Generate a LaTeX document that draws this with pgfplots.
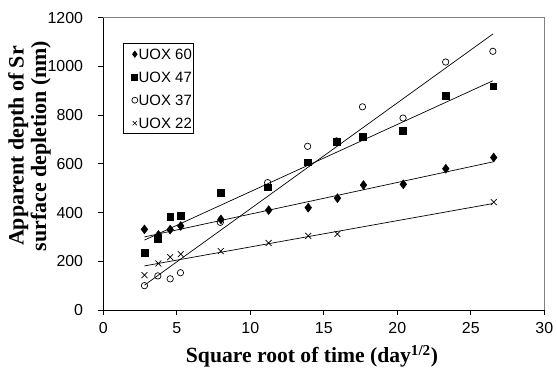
\documentclass[border=0pt]{standalone}
\usepackage{fontspec}
\setmainfont{Liberation Sans}
\newfontfamily\serifb{Liberation Serif}
\usepackage{pgfplots}
\pgfplotsset{compat=1.18}
\begin{document}
\begin{tikzpicture}
\begin{axis}[
  scale only axis,
  width=441bp, height=292.3bp,
  xmin=0, xmax=30, ymin=0, ymax=1200,
  xtick={0,5,...,30}, ytick={0,200,...,1200},
  tick align=outside, major tick length=5bp,
  tick style={black, line width=0.8pt},
  axis x line*=bottom, axis y line*=left,
  axis line style={black, line width=0.8pt, -},
  /pgf/number format/assume math mode=true,
  /pgf/number format/1000 sep={},
  every tick label/.append style={font=\fontsize{16}{19}\selectfont, inner sep=0pt},
  every x tick label/.append style={anchor=north, yshift=-7bp},
  every y tick label/.append style={anchor=east},
  yticklabel={\pgfmathprintnumber{\tick}\hspace*{15bp}},
  xlabel={\serifb\bfseries Square root of time (day\textsuperscript{1/2})},
  xlabel style={font=\fontsize{21.7}{24}\selectfont, at={(axis description cs:0.4732,-0.1813)}, anchor=base},
  ylabel={\serifb\bfseries Apparent depth of Sr\\\serifb\bfseries surface depletion (nm)},
  ylabel style={font=\fontsize{22}{22.5}\selectfont, align=center, at={(axis description cs:-0.1673,0.561)}, anchor=center},
  legend style={at={(axis description cs:0.044,0.9124)}, anchor=north west,
    draw=black, line width=0.8pt, font=\fontsize{15}{18}\selectfont,
    inner xsep=2bp, inner ysep=5bp, row sep=12bp,
    nodes={inner sep=0pt, text height=11bp, text depth=0bp},
    /tikz/every even column/.append style={column sep=3.2bp}},
  legend cell align=left,
  legend image code/.code={\path (-9.3bp,0) (3.5bp,0); \draw[#1, mark size=3bp] plot coordinates {(0bp,0bp)};},
  clip=false,
]
\draw[gray, line width=0.8pt] (axis cs:0,1200) -- (axis cs:30,1200) -- (axis cs:30,0);
\addplot[only marks, mark=diamond*, mark size=4.5bp, mark options={fill=black, draw=black}] coordinates {
(2.8,331)(3.75,308)(4.55,330)(5.27,345)(8.0,372)(11.25,410)(13.94,420)(15.93,459)(17.7,513)(20.41,516)(23.3,580)(26.56,626)};
\addlegendentry{UOX 60}
\addplot[only marks, mark=square*, mark size=3.4bp, mark options={fill=black, draw=black}] coordinates {
(2.8,236)(3.71,293)(4.55,383)(5.25,386)(7.96,481)(11.18,504)(13.9,607)(15.86,691)(17.63,711)(20.39,737)(23.29,880)(26.52,919)};
\addlegendentry{UOX 47}
\addplot[only marks, mark=o, mark size=3.2bp, mark options={draw=black, fill=white, line width=0.7pt}] coordinates {
(2.8,100)(3.71,140)(4.55,128)(5.25,153)(7.96,360)(11.18,523)(13.9,672)(15.86,694)(17.63,834)(20.39,788)(23.29,1018)(26.5,1062)};
\addlegendentry{UOX 37}
\addplot[only marks, mark=x, mark size=4.2bp, mark options={draw=black, line width=0.7pt}] coordinates {
(2.8,143)(3.75,191)(4.55,217)(5.27,229)(7.99,242)(11.25,275)(13.94,304)(15.93,312)(26.56,443)};
\addlegendentry{UOX 22}
\addplot[black, line width=0.7pt, forget plot] coordinates {(2.8,300)(26.5,608)};
\addplot[black, line width=0.7pt, forget plot] coordinates {(2.8,287)(26.5,941)};
\addplot[black, line width=0.7pt, forget plot] coordinates {(2.8,102)(26.5,1133)};
\addplot[black, line width=0.7pt, forget plot] coordinates {(2.8,181)(26.5,437)};
\end{axis}
\path (current axis.south west) ++(-103.3bp,-60bp) rectangle ([shift={(12.7bp,17.7bp)}]current axis.north east);
\end{tikzpicture}
\end{document}
